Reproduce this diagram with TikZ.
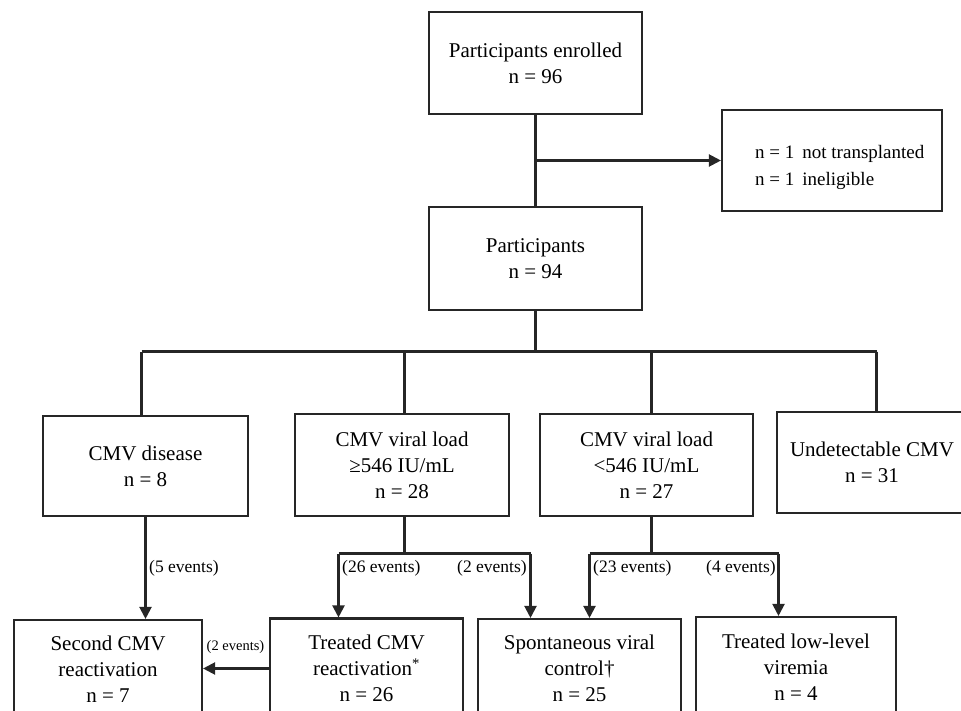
\documentclass[tikz,border=0pt]{standalone}
\usepackage{fontspec}
\setmainfont{Liberation Serif}
\usetikzlibrary{arrows.meta}
\begin{document}
\begin{tikzpicture}[x=1pt,y=-1pt,
  box/.style={draw=black!85,line width=2.1pt,rectangle,inner sep=0pt,align=center,
    font=\fontsize{21}{26}\selectfont},
  lbl/.style={inner sep=0pt,anchor=west,font=\fontsize{17.5}{20}\selectfont},
  conn/.style={draw=black!85,line width=2.1pt},
  arr/.style={conn,-{Triangle[length=12pt,width=12pt]}}]
\useasboundingbox (0,0) rectangle (961,711);
\clip (0,0) rectangle (961,711);
% nodes
\node[box,minimum width=213pt,minimum height=102pt] (enrolled) at (535.5,63) {Participants enrolled\\n = 96};
\node[box,minimum width=220pt,minimum height=101pt] (excl) at (832,160.5) {};
\node[inner sep=0pt,anchor=west,font=\fontsize{19}{29}\selectfont] (excltext) at (755,166)
  {\begin{tabular}{@{}l@{\hspace{8pt}}l@{}}n = 1 & not transplanted\\[-2pt] n = 1 & ineligible\end{tabular}};
\node[box,minimum width=213pt,minimum height=103pt] (p94) at (535.5,258.5) {Participants\\n = 94};
\node[box,minimum width=205pt,minimum height=100pt] (disease) at (145.5,466) {CMV disease\\n = 8};
\node[box,minimum width=214pt,minimum height=102pt] (vhigh) at (402,465) {CMV viral load\\≥546 IU/mL\\n = 28};
\node[box,minimum width=213pt,minimum height=102pt] (vlow) at (646.5,465) {CMV viral load\\<546 IU/mL\\n = 27};
\node[box,minimum width=190pt,minimum height=101pt] (undet) at (872,462.5) {Undetectable CMV\\n = 31};
\node[box,minimum width=188pt,minimum height=98pt] (second) at (108,669) {Second CMV\\reactivation\\n = 7};
\node[box,minimum width=193pt,minimum height=100pt] (treated) at (366.5,668.5) {Treated CMV\\reactivation\textsuperscript{*}\\n = 26};
\node[box,minimum width=203pt,minimum height=99pt] (spont) at (579.5,668.5) {Spontaneous viral\\control†\\n = 25};
\node[box,minimum width=200pt,minimum height=100pt] (lowlvl) at (796,667) {Treated low-level\\viremia\\n = 4};
% coordinates
\coordinate (br1) at (enrolled.south |- excl.west);
\coordinate (hub) at (p94.south |- 0,351.5);
\coordinate (barL) at (141.5,351.5);
\coordinate (barA) at (404.5,351.5);
\coordinate (barB) at (651.5,351.5);
\coordinate (barR) at (876.5,351.5);
\coordinate (f1l) at (338.5,553.5);
\coordinate (f1r) at (530.5,553.5);
\coordinate (f2l) at (589.5,553.5);
\coordinate (f2r) at (778.5,553.5);
% connectors
\draw[conn] (enrolled.south) -- (p94.north);
\draw[arr] (br1) -- (excl.west);
\draw[conn] (p94.south) -- (hub);
\draw[conn] (barL) -- (barR);
\draw[conn] (barL) -- (barL |- disease.north);
\draw[conn] (barA) -- (barA |- vhigh.north);
\draw[conn] (barB) -- (barB |- vlow.north);
\draw[conn] (barR) -- (barR |- undet.north);
\draw[arr] (disease.south) -- (disease.south |- second.north);
\draw[conn] (vhigh.south -| barA) -- (barA |- f1l);
\draw[conn] (f1l) -- (f1r);
\draw[arr] (f1l) -- (f1l |- treated.north);
\draw[arr] (f1r) -- (f1r |- spont.north);
\draw[conn] (vlow.south -| barB) -- (barB |- f2l);
\draw[conn] (f2l) -- (f2r);
\draw[arr] (f2l) -- (f2l |- spont.north);
\draw[arr] (f2r) -- (f2r |- lowlvl.north);
\draw[arr] (treated.west) -- (treated.west -| second.east);
% labels
\node[lbl] (l5) at (149,568) {(5 events)};
\node[lbl] (l26) at (342,568) {(26 events)};
\node[lbl] (l2a) at (457,568) {(2 events)};
\node[lbl] (l23) at (593,568) {(23 events)};
\node[lbl] (l4) at (706,568) {(4 events)};
\node[lbl,font=\fontsize{14.5}{17}\selectfont] (l2b) at (206.5,647) {(2 events)};
\end{tikzpicture}
\end{document}
